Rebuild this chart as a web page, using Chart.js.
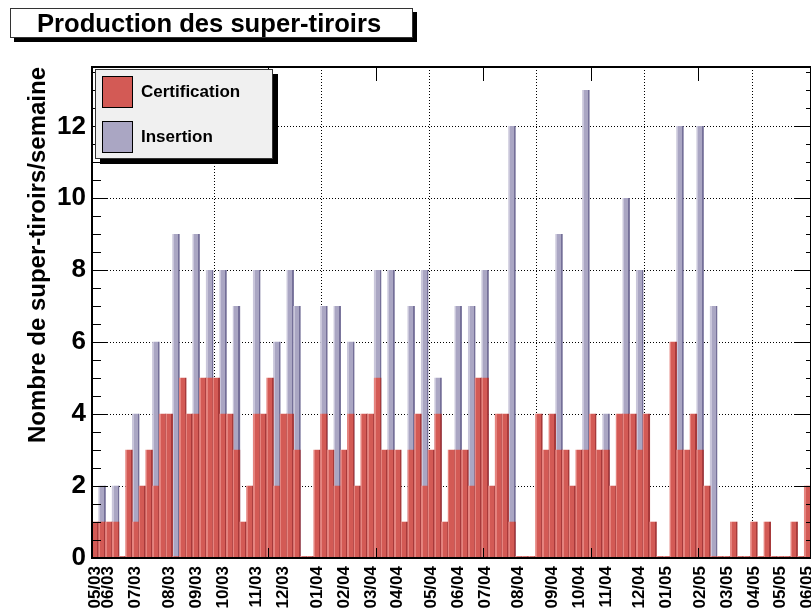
<!DOCTYPE html>
<html>
<head>
<meta charset="utf-8">
<script src="https://cdn.jsdelivr.net/npm/chart.js@4.4.1/dist/chart.umd.min.js"></script>
<style>
  html, body { margin: 0; padding: 0; background: #fff; }
</style>
</head>
<body>
<canvas id="prodChart" width="811" height="610"></canvas>
<script>
// weekly counts, one entry per week starting 05/03
const certification = [
  1, 1, 1, 1, 0, 3, 1, 2, 3, 2,
  4, 4, 0, 5, 4, 4, 5, 5, 5, 4,
  4, 3, 1, 2, 4, 4, 5, 2, 4, 4,
  3, 0, 0, 3, 4, 3, 2, 3, 4, 2,
  4, 4, 5, 3, 3, 3, 1, 3, 4, 2,
  3, 4, 1, 3, 3, 3, 2, 5, 5, 2,
  4, 4, 1, 0, 0, 0, 4, 3, 4, 3,
  3, 2, 3, 3, 4, 3, 3, 2, 4, 4,
  4, 3, 4, 1, 0, 0, 6, 3, 3, 4,
  3, 2, 0, 0, 0, 1, 0, 0, 1, 0,
  1, 0, 0, 0, 1, 0, 2
];
const insertion = [
  0, 2, 0, 2, 0, 0, 4, 0, 0, 6,
  0, 0, 9, 0, 0, 9, 0, 8, 0, 8,
  0, 7, 0, 0, 8, 0, 0, 6, 0, 8,
  7, 0, 0, 0, 7, 0, 7, 0, 6, 0,
  0, 0, 8, 0, 8, 0, 0, 7, 0, 8,
  0, 5, 0, 0, 7, 0, 7, 0, 8, 0,
  0, 0, 12, 0, 0, 0, 0, 0, 0, 9,
  0, 0, 0, 13, 0, 0, 4, 0, 0, 10,
  0, 8, 0, 0, 0, 0, 0, 12, 0, 0,
  12, 0, 7, 0, 0, 0, 0, 0, 0, 0,
  0, 0, 0, 0, 0, 0, 0
];

// month tick labels and the week they sit on
const labelWeeks = [0, 2, 6, 11, 15, 19, 24, 28, 33, 37, 41, 45, 50,
                    54, 58, 63, 68, 72, 76, 81, 85, 90, 94, 98, 102, 106];
const labelTexts = ['05/03', '06/03', '07/03', '08/03', '09/03', '10/03', '11/03', '12/03',
                    '01/04', '02/04', '03/04', '04/04', '05/04', '06/04', '07/04', '08/04',
                    '09/04', '10/04', '11/04', '12/04', '01/05', '02/05', '03/05', '04/05',
                    '05/05', '06/05'];

// vertical dotted grid, in weeks from the left edge
const gridWeeks = [19.4, 39.4, 59.4, 79.4, 99.4];

const chartTitle = 'Production des super-tiroirs';
const yTitle = 'Nombre de super-tiroirs/semaine';
const FONT = '"Liberation Sans", Arial, Helvetica, sans-serif';

const weekLabels = certification.map((v, i) => {
    const k = labelWeeks.indexOf(i);
    return k >= 0 ? labelTexts[k] : '';
});

const redShades = { light: '#e5847f', main: '#d35a55', dark: '#a7393a' };
const blueShades = { light: '#c9c6da', main: '#aaa6c3', dark: '#746f98' };

// ROOT style 3D bar: bright left strip, dark right strip
function barFill(shades) {
    return function (c) {
        const chart = c.chart;
        const area = chart.chartArea;
        if (!area || c.type !== 'data') return shades.main;
        const cx = chart.scales.x.getPixelForValue(c.dataIndex);
        const w = (area.right - area.left) / chart.data.labels.length;
        const x0 = cx - w / 2;
        const g = chart.ctx.createLinearGradient(x0, 0, x0 + w, 0);
        g.addColorStop(0, shades.light);
        g.addColorStop(0.2, shades.light);
        g.addColorStop(0.2, shades.main);
        g.addColorStop(0.8, shades.main);
        g.addColorStop(0.8, shades.dark);
        g.addColorStop(1, shades.dark);
        return g;
    };
}

const rootFrame = {
    id: 'rootFrame',
    afterDatasetsDraw(chart) {
        const { ctx, chartArea: a, scales } = chart;
        const y = scales.y, xg = scales.xGrid;
        ctx.save();
        ctx.strokeStyle = '#000';
        ctx.lineWidth = 1;
        ctx.beginPath();
        for (let v = 0; v <= y.max; v += 0.5) {
            const py = Math.round(y.getPixelForValue(v)) + 0.5;
            const major = v % 2 === 0;
            ctx.moveTo(a.left, py);
            ctx.lineTo(a.left + (major ? 16 : 9), py);
            ctx.moveTo(a.right, py);
            ctx.lineTo(a.right - (major ? 16 : 5), py);
        }
        gridWeeks.forEach(v => {
            const px = Math.round(xg.getPixelForValue(v)) + 0.5;
            ctx.moveTo(px, a.top);
            ctx.lineTo(px, a.top + 14);
            ctx.moveTo(px, a.bottom);
            ctx.lineTo(px, a.bottom - 10);
        });
        ctx.stroke();
        ctx.lineWidth = 2;
        ctx.strokeRect(a.left, a.top, a.right - a.left, a.bottom - a.top);
        ctx.restore();
    },
    afterDraw(chart) {
        const ctx = chart.ctx;
        ctx.save();
        // title box with shadow
        ctx.fillStyle = '#000';
        ctx.fillRect(14, 12, 403, 30);
        ctx.fillStyle = '#fff';
        ctx.fillRect(10, 8, 403, 30);
        ctx.strokeStyle = '#333';
        ctx.lineWidth = 1;
        ctx.strokeRect(10.5, 8.5, 402, 29);
        ctx.fillStyle = '#000';
        ctx.font = 'bold 25.6px ' + FONT;
        ctx.textBaseline = 'alphabetic';
        ctx.fillText(chartTitle, 37, 31.5);

        // legend box with shadow
        ctx.fillStyle = '#000';
        ctx.fillRect(100, 74, 178, 90);
        ctx.fillStyle = '#f0f0f0';
        ctx.fillRect(95, 69, 178, 90);
        ctx.strokeStyle = '#333';
        ctx.strokeRect(95.5, 69.5, 177, 89);
        ctx.font = 'bold 17px ' + FONT;
        ctx.textBaseline = 'middle';
        chart.data.datasets.forEach((ds, i) => {
            const top = 76 + i * 45;
            ctx.fillStyle = ds.legendColor;
            ctx.fillRect(102, top, 31, 32);
            ctx.strokeStyle = '#000';
            ctx.strokeRect(102.5, top + 0.5, 30, 31);
            ctx.fillStyle = '#000';
            ctx.fillText(ds.label, 141, top + 16.5);
        });
        ctx.restore();
    }
};

const ctx = document.getElementById('prodChart').getContext('2d');
const chart = new Chart(ctx, {
    type: 'bar',
    data: {
        labels: weekLabels,
        datasets: [{
            label: 'Certification',
            data: certification,
            backgroundColor: barFill(redShades),
            legendColor: redShades.main,
            minBarLength: 1.5,
            xAxisID: 'x',
            yAxisID: 'y'
        }, {
            label: 'Insertion',
            data: insertion,
            backgroundColor: barFill(blueShades),
            legendColor: blueShades.main,
            xAxisID: 'x',
            yAxisID: 'y'
        }]
    },
    options: {
        responsive: false,
        animation: false,
        layout: {
            padding: { top: 67, left: 0, right: 0, bottom: 0 },
            autoPadding: false
        },
        datasets: {
            bar: {
                grouped: false,
                barPercentage: 1,
                categoryPercentage: 1,
                borderWidth: 0
            }
        },
        scales: {
            x: {
                type: 'category',
                offset: true,
                grid: { display: false, drawTicks: false },
                border: { display: false },
                ticks: {
                    autoSkip: false,
                    maxRotation: 90,
                    minRotation: 90,
                    padding: 8,
                    color: '#000',
                    font: { family: FONT, size: 17, weight: 'bold' }
                },
                afterFit: s => {
                    s.height = 52;
                    s.paddingLeft = 0;
                    s.paddingRight = 0;
                }
            },
            xGrid: {
                type: 'linear',
                position: 'top',
                min: 0,
                max: certification.length,
                ticks: { display: false },
                grid: { color: '#000', lineWidth: 1, drawTicks: false },
                border: { display: false, dash: [1, 2] },
                afterBuildTicks: s => { s.ticks = gridWeeks.map(v => ({ value: v })); },
                afterFit: s => {
                    s.height = 0;
                    s.paddingLeft = 0;
                    s.paddingRight = 0;
                }
            },
            y: {
                min: 0,
                max: 13.65,
                ticks: {
                    stepSize: 2,
                    includeBounds: false,
                    padding: 6,
                    color: '#000',
                    font: { family: FONT, size: 26, weight: 'bold' }
                },
                grid: { color: '#000', lineWidth: 1, drawTicks: false },
                border: { display: false, dash: [1, 2] },
                title: {
                    display: true,
                    text: yTitle,
                    align: 'end',
                    color: '#000',
                    font: { family: FONT, size: 24, weight: 'bold' },
                    padding: { top: 24, bottom: 0 }
                },
                afterFit: s => {
                    s.width = 92;
                    s.paddingTop = 0;
                    s.paddingBottom = 0;
                }
            }
        },
        plugins: {
            legend: { display: false },
            title: { display: false },
            tooltip: { enabled: false }
        }
    },
    plugins: [rootFrame]
});
</script>
</body>
</html>
